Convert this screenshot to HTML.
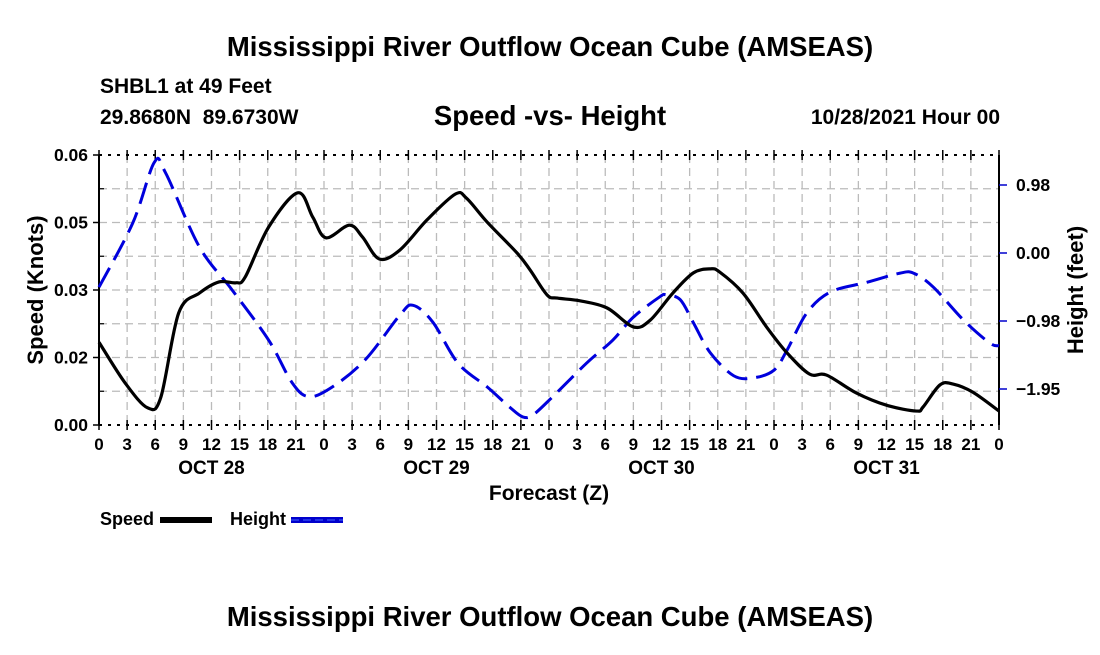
<!DOCTYPE html>
<html><head><meta charset="utf-8"><style>
body{margin:0;background:#fff;width:1100px;height:650px;overflow:hidden;font-family:"Liberation Sans",Arial,sans-serif}
svg text{font-family:"Liberation Sans",Arial,sans-serif;font-weight:bold;fill:#000}
</style></head><body>
<svg id="chart" width="1100" height="650" viewBox="0 0 1100 650" xmlns="http://www.w3.org/2000/svg">
<text x="550" y="56" font-size="27.5" text-anchor="middle">Mississippi River Outflow Ocean Cube (AMSEAS)</text>
<text x="100" y="93" font-size="21">SHBL1 at 49 Feet</text>
<text x="100" y="124" font-size="21">29.8680N&#160;&#160;89.6730W</text>
<text x="550" y="125" font-size="27.5" text-anchor="middle">Speed -vs- Height</text>
<text x="1000" y="124" font-size="21" text-anchor="end">10/28/2021 Hour 00</text>
<g id="grid"></g>
<g id="axes"></g>
<g id="series"></g>
<text transform="translate(43,290) rotate(-90)" font-size="22" text-anchor="middle">Speed (Knots)</text>
<text transform="translate(1083,290) rotate(-90)" font-size="22" text-anchor="middle">Height (feet)</text>
<text x="549" y="500" font-size="21" text-anchor="middle">Forecast (Z)</text>
<g>
<text x="100" y="525" font-size="18">Speed</text>
<rect x="160" y="517" width="52" height="6" fill="#000"/>
</g>
<g>
<text x="230" y="525" font-size="18">Height</text>
<rect x="291" y="517" width="52" height="6" fill="#0000cc"/>
<line x1="291" y1="520" x2="343" y2="520" stroke="#4466ff" stroke-width="1" stroke-dasharray="8,4"/>
</g>
<text x="550" y="626" font-size="27.5" text-anchor="middle">Mississippi River Outflow Ocean Cube (AMSEAS)</text>
</svg>
<script>
const speedHours=[0,2.8,5.2,6.6,8.5,10.7,12.8,14.6,15.6,18.1,21.2,22.8,24.2,26.7,28.1,29.9,32.1,35,38,39.2,41.4,44.6,46,47.8,48.9,51.3,54.2,57,58.8,61.2,63.4,65.2,66.2,68.7,71.2,73.4,75.8,77.6,80.8,84,87.2,87.9,89.7,91.1,93.2,96];
const speedValues=[0.0184,0.0093,0.0038,0.0062,0.0249,0.0293,0.0318,0.0316,0.0329,0.0440,0.0516,0.0462,0.0416,0.0444,0.0418,0.0369,0.0389,0.0456,0.0513,0.0504,0.0451,0.0382,0.0344,0.0289,0.0282,0.0276,0.0260,0.0218,0.0233,0.0293,0.0338,0.0347,0.0340,0.0293,0.0218,0.0160,0.0113,0.0111,0.0071,0.0044,0.0031,0.0040,0.0089,0.0091,0.0073,0.0031];
const heightHours=[0,3.6,5.9,7.1,10.7,14.2,18.1,20.6,22.4,24.9,28.4,32.1,33.5,35.6,38.3,41.4,43.8,45.2,46.3,48.4,52,54.8,57,59.8,60.5,62,63.4,65.2,67.7,69.8,72,73.4,75.5,78,81.9,85.4,86.9,89,92.2,95,96];
const heightValues=[-0.49,0.43,1.30,1.15,0.09,-0.53,-1.25,-1.86,-2.06,-1.92,-1.53,-0.89,-0.75,-0.99,-1.58,-1.92,-2.21,-2.35,-2.32,-2.06,-1.58,-1.25,-0.92,-0.63,-0.60,-0.67,-1.00,-1.43,-1.76,-1.79,-1.68,-1.39,-0.86,-0.56,-0.42,-0.29,-0.29,-0.49,-0.96,-1.29,-1.33];
const leftTicks=[0,0.015,0.03,0.045,0.06];
const leftTickLabels=["0.00","0.02","0.03","0.05","0.06"];
const rightTicks=[0.975,0,-0.975,-1.95];
const rightTickLabels=["0.98","0.00","-0.98","-1.95"];
const dayLabels=["OCT 28","OCT 29","OCT 30","OCT 31"];

const X0=99,X1=999,Y0=155,Y1=425;
const xs=h=>X0+(h/96)*(X1-X0);
const ysL=v=>Y1-(v/0.06)*(Y1-Y0);
const ysR=v=>253-(v/0.975)*68;
const NS="http://www.w3.org/2000/svg";
function mk(tag,attrs,parent){const e=document.createElementNS(NS,tag);for(const k in attrs)e.setAttribute(k,attrs[k]);parent.appendChild(e);return e;}
const grid=document.getElementById('grid'),axes=document.getElementById('axes'),series=document.getElementById('series');

for(let h=3;h<96;h+=3){const l=mk('line',{x1:xs(h),x2:xs(h),y1:Y0,y2:Y1,stroke:'#bbb','stroke-width':1.3,'stroke-dasharray':'8,5'},grid);

}
const hY=[];
leftTicks.slice(1,4).forEach(v=>hY.push(ysL(v)));
leftTicks.slice(0,4).forEach(v=>hY.push(ysL(v+0.0075)));
hY.forEach(y=>{const l=mk('line',{x1:X0,x2:X1,y1:y,y2:y,stroke:'#bbb','stroke-width':1.3,'stroke-dasharray':'8,5'},grid);

});

mk('line',{x1:X0,x2:X0,y1:Y0,y2:Y1,stroke:'#000','stroke-width':2},axes);
mk('line',{x1:X1,x2:X1,y1:Y0,y2:Y1,stroke:'#000','stroke-width':2},axes);
mk('line',{x1:X0,x2:X1,y1:Y0,y2:Y0,stroke:'#000','stroke-width':2,'stroke-dasharray':'3,6'},axes);
mk('line',{x1:X0,x2:X1,y1:Y1,y2:Y1,stroke:'#000','stroke-width':2,'stroke-dasharray':'3,6'},axes);
for(let h=0;h<=96;h+=3){
 mk('line',{x1:xs(h),x2:xs(h),y1:Y1-5,y2:Y1+5,stroke:'#000','stroke-width':1.5},axes);
 mk('line',{x1:xs(h),x2:xs(h),y1:Y0-5,y2:Y0+5,stroke:'#000','stroke-width':1.5},axes);
 const t=mk('text',{x:xs(h),y:450,'font-size':17,'text-anchor':'middle'},axes);t.textContent=String(h%24);
 
 
}
dayLabels.forEach((d,i)=>{const t=mk('text',{x:xs(12+24*i),y:474,'font-size':19,'text-anchor':'middle'},axes);t.textContent=d;

});
leftTicks.forEach((v,i)=>{const y=ysL(v);mk('line',{x1:X0-6,x2:X0,y1:y,y2:y,stroke:'#000','stroke-width':1.5},axes);
const t=mk('text',{x:88,y:y+6,'font-size':17.5,'text-anchor':'end'},axes);t.textContent=leftTickLabels[i];

});
for(let v=0.0075;v<0.06;v+=0.015){const y=ysL(v);mk('line',{x1:X0,x2:X0+5,y1:y,y2:y,stroke:'#000','stroke-width':1.2},axes);}
rightTicks.forEach((v,i)=>{const y=ysR(v);mk('line',{x1:X1,x2:X1+8,y1:y,y2:y,stroke:'#0000cc','stroke-width':1.5},axes);
const t=mk('text',{x:1016,y:y+6,'font-size':17.5},axes);t.textContent=rightTickLabels[i].replace('-','\u2212');

});

function smooth(pts){let d=`M${pts[0][0]},${pts[0][1]}`;
 for(let i=0;i<pts.length-1;i++){const p0=pts[Math.max(0,i-1)],p1=pts[i],p2=pts[i+1],p3=pts[Math.min(pts.length-1,i+2)];
  const c1=[p1[0]+(p2[0]-p0[0])/6,p1[1]+(p2[1]-p0[1])/6],c2=[p2[0]-(p3[0]-p1[0])/6,p2[1]-(p3[1]-p1[1])/6];
  d+=` C${c1[0]},${c1[1]} ${c2[0]},${c2[1]} ${p2[0]},${p2[1]}`;}
 return d;}
const hp=mk('path',{d:smooth(heightHours.map((h,i)=>[xs(h),ysR(heightValues[i])])),fill:'none',stroke:'#0000dd','stroke-width':3,'stroke-dasharray':'22,9'},series);


const sp=mk('path',{d:smooth(speedHours.map((h,i)=>[xs(h),ysL(speedValues[i])])),fill:'none',stroke:'#000','stroke-width':3.2},series);


</script>
</body></html>
